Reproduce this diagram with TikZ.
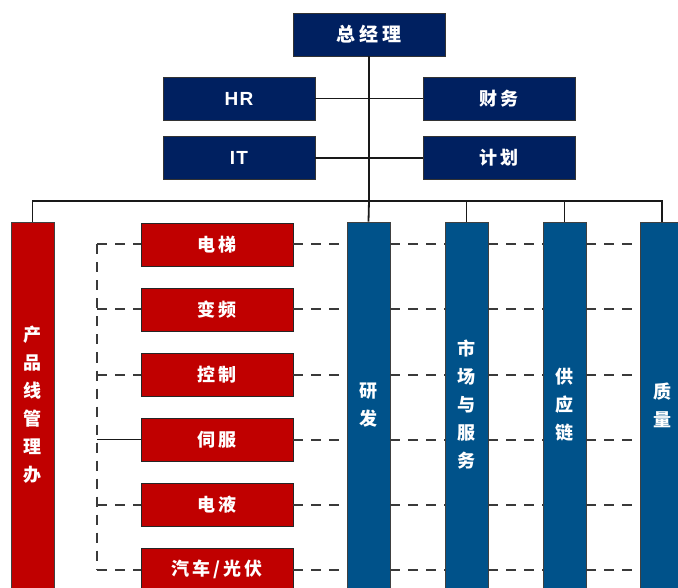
\documentclass[tikz,border=0pt]{standalone}
\usepackage{fontspec}
\newfontfamily\cjk{Noto Sans CJK SC}[LetterSpace=16]
\newfontfamily\cjkw{Noto Sans CJK SC}[LetterSpace=22]
\newfontfamily\cjkv{Noto Sans CJK SC}
\newfontfamily\latb{Liberation Sans}[LetterSpace=6]
\definecolor{navy}{HTML}{002060}
\definecolor{dred}{HTML}{C00000}
\definecolor{dblue}{HTML}{00528A}
\definecolor{dgray}{HTML}{3A3A3A}
\tikzset{
  topbox/.style={draw=black!80, line width=0.8pt, fill=navy, text=white, minimum width=152pt, minimum height=43pt, inner sep=0pt, font=\cjk\bfseries\fontsize{18}{22}\selectfont},
  gmbox/.style={topbox, font=\cjkw\bfseries\fontsize{19}{22}\selectfont},
  latbox/.style={topbox, font=\latb\bfseries\fontsize{19}{22}\selectfont},
  subbox/.style={draw=black!85, line width=0.8pt, fill=dred, text=white, minimum width=152pt, minimum height=43pt, inner sep=0pt, font=\cjk\bfseries\fontsize{18}{22}\selectfont},
  colbox/.style={draw=black!75, line width=0.8pt, text=white, minimum width=43pt, minimum height=366pt, inner sep=0pt, align=center, font=\cjkv\bfseries\fontsize{18}{28}\selectfont},
  redcol/.style={colbox, fill=dred},
  bluecol/.style={colbox, fill=dblue},
  solidln/.style={draw=black!90, line width=1.8pt},
  dashln/.style={draw=dgray, line width=2pt, dash pattern=on 10pt off 8pt},
}
\begin{document}
\begin{tikzpicture}[x=1pt,y=-1pt]
\useasboundingbox (0,0) rectangle (678,588);
% top boxes
\node[gmbox] (gm) at (369,34.5) {总经理};
\node[latbox] (hr) at (239,98.5) {HR};
\node[topbox] (fin) at (499,98.5) {财务};
\node[latbox] (it) at (239,158) {IT};
\node[topbox] (plan) at (499,158) {计划};
\coordinate (bus) at (369,201);
\coordinate (brk1) at (97,244.5);
\coordinate (brk6) at (97,569.5);
% connectors top
\draw[solidln] (hr.east) -- (fin.west);
\draw[solidln] (it.east) -- (plan.west);
\draw[solidln] (gm.south) -- (bus);
% columns
\node[redcol] (prod) at (32.5,405) {产\\品\\线\\管\\理\\办};
\node[bluecol] (rd) at (368.5,405) {研\\发};
\node[bluecol] (mkt) at (466.5,405) {市\\场\\与\\服\\务};
\node[bluecol] (sup) at (564.5,405) {供\\应\\链};
\node[bluecol] (qual) at (662,405) {质\\量};
\draw[solidln] (prod.north) |- (bus) -| (qual.north);
\draw[solidln] (bus) -- (rd.north);
\draw[solidln] (mkt.north) -- (mkt.north |- bus);
\draw[solidln] (sup.north) -- (sup.north |- bus);
% product boxes
\foreach \i/\t in {1/{电梯},2/{变频},3/{控制},4/{伺服},5/{电液},6/{汽车/光伏}}{
  \node[subbox] (s\i) at (217,{244.5+65*(\i-1)}) {\t};
}
\draw[dashln] (brk1) -- (brk6);
\foreach \i in {1,2,3,5,6}{
  \draw[dashln] (brk1 |- s\i) -- (s\i.west);
}
\draw[solidln] (brk1 |- s4) -- (s4.west);
\foreach \i in {1,...,6}{
  \draw[dashln] (s\i.east) -- (rd.west |- s\i);
  \draw[dashln] (rd.east |- s\i) -- (mkt.west |- s\i);
  \draw[dashln] (mkt.east |- s\i) -- (sup.west |- s\i);
  \draw[dashln] (sup.east |- s\i) -- (qual.west |- s\i);
}
\end{tikzpicture}
\end{document}
